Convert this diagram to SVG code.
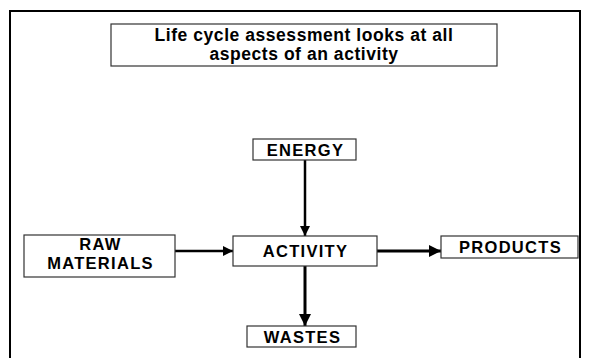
<svg xmlns="http://www.w3.org/2000/svg" width="589" height="358" viewBox="0 0 589 358">
  <defs>
    <style>
      .box { fill: #ffffff; stroke: #333333; stroke-width: 1.2; }
      .lbl { font-family: "Liberation Sans", Arial, sans-serif; font-weight: bold; font-size: 16.5px; letter-spacing: 1.3px; fill: #000000; text-anchor: middle; }
      .ttl { font-family: "Liberation Sans", Arial, sans-serif; font-weight: bold; font-size: 17.5px; letter-spacing: 0.55px; fill: #000000; text-anchor: middle; }
      .conn { stroke: #000000; stroke-width: 2.5; fill: none; }
    </style>
    <marker id="arr" viewBox="0 0 10 10" refX="10" refY="5" markerWidth="4" markerHeight="4" orient="auto" markerUnits="strokeWidth">
      <path d="M0,0 L10,5 L0,10 z" fill="#000000"/>
    </marker>
  </defs>
  <rect width="589" height="358" fill="#ffffff"/>
  <path d="M10,358 V11 H580 V358" fill="none" stroke="#000000" stroke-width="2"/>

  <g id="title">
    <rect class="box" x="111" y="24" width="386" height="42"/>
    <text class="ttl" x="304" y="41">Life cycle assessment looks at all</text>
    <text class="ttl" x="304" y="60">aspects of an activity</text>
  </g>

  <g id="connectors">
    <line class="conn" x1="305" y1="160" x2="305" y2="236" marker-end="url(#arr)"/>
    <line class="conn" x1="175" y1="251" x2="233" y2="251" marker-end="url(#arr)"/>
    <line class="conn" x1="377" y1="251" x2="441" y2="251" marker-end="url(#arr)" style="stroke-width:3"/>
    <line class="conn" x1="305" y1="266" x2="305" y2="326" marker-end="url(#arr)" style="stroke-width:3"/>
  </g>

  <g id="energy">
    <rect class="box" x="253" y="139" width="103" height="21"/>
    <text class="lbl" x="305.5" y="156">ENERGY</text>
  </g>

  <g id="raw-materials">
    <rect class="box" x="24" y="235" width="151" height="42"/>
    <text class="lbl" x="100.5" y="250">RAW</text>
    <text class="lbl" x="100.5" y="269">MATERIALS</text>
  </g>

  <g id="activity">
    <rect class="box" x="233" y="236" width="144" height="30"/>
    <text class="lbl" x="305.5" y="257">ACTIVITY</text>
  </g>

  <g id="products">
    <rect class="box" x="441" y="236" width="137" height="22"/>
    <text class="lbl" x="510.5" y="253">PRODUCTS</text>
  </g>

  <g id="wastes">
    <rect class="box" x="247" y="326" width="109" height="21"/>
    <text class="lbl" x="302.5" y="343">WASTES</text>
  </g>
</svg>
